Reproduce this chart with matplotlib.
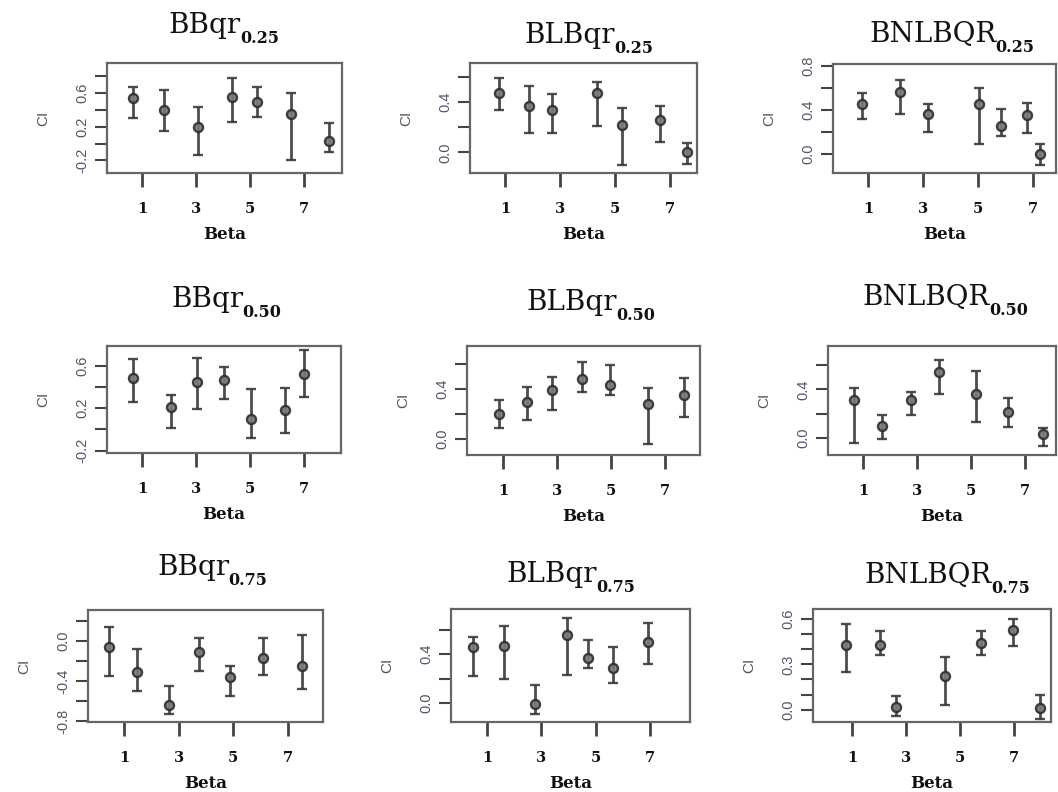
import matplotlib.pyplot as plt
from matplotlib.transforms import offset_copy

methods = ['BBqr', 'BLBqr', 'BNLBQR']
quantiles = ['0.25', '0.50', '0.75']
beta_ticks = [1, 3, 5, 7]

# BBqr, tau = 0.25
bbqr25_pos = [0.67, 1.81, 3.07, 4.33, 5.26, 6.52, 7.93]
bbqr25_est = [0.54, 0.40, 0.20, 0.56, 0.50, 0.35, 0.03]
bbqr25_lo = [0.30, 0.15, -0.13, 0.26, 0.32, -0.20, -0.10]
bbqr25_hi = [0.68, 0.64, 0.44, 0.78, 0.67, 0.60, 0.24]
# BLBqr, tau = 0.25
blbqr25_pos = [0.78, 1.87, 2.71, 4.35, 5.25, 6.64, 7.62]
blbqr25_est = [0.47, 0.37, 0.34, 0.47, 0.22, 0.26, 0.00]
blbqr25_lo = [0.34, 0.15, 0.15, 0.21, -0.10, 0.08, -0.09]
blbqr25_hi = [0.59, 0.53, 0.46, 0.56, 0.35, 0.37, 0.07]
# BNLBQR, tau = 0.25
bnlbqr25_pos = [0.78, 2.16, 3.18, 5.04, 5.84, 6.78, 7.25]
bnlbqr25_est = [0.45, 0.56, 0.36, 0.45, 0.25, 0.35, 0.00]
bnlbqr25_lo = [0.32, 0.36, 0.20, 0.09, 0.16, 0.19, -0.10]
bnlbqr25_hi = [0.55, 0.67, 0.45, 0.60, 0.41, 0.46, 0.09]

# BBqr, tau = 0.50
bbqr50_pos = [0.67, 2.07, 3.04, 4.04, 5.04, 6.30, 7.00]
bbqr50_est = [0.48, 0.21, 0.45, 0.46, 0.10, 0.18, 0.52]
bbqr50_lo = [0.26, 0.01, 0.19, 0.29, -0.08, -0.03, 0.30]
bbqr50_hi = [0.66, 0.32, 0.67, 0.59, 0.38, 0.39, 0.75]
# BLBqr, tau = 0.50
blbqr50_pos = [0.85, 1.89, 2.81, 3.93, 4.96, 6.37, 7.70]
blbqr50_est = [0.20, 0.30, 0.39, 0.48, 0.43, 0.28, 0.35]
blbqr50_lo = [0.09, 0.15, 0.23, 0.38, 0.35, -0.04, 0.18]
blbqr50_hi = [0.31, 0.42, 0.50, 0.62, 0.59, 0.41, 0.49]
# BNLBQR, tau = 0.50
bnlbqr50_pos = [0.67, 1.70, 2.78, 3.81, 5.19, 6.37, 7.67]
bnlbqr50_est = [0.31, 0.10, 0.31, 0.54, 0.36, 0.21, 0.03]
bnlbqr50_lo = [-0.04, -0.01, 0.19, 0.36, 0.13, 0.09, -0.07]
bnlbqr50_hi = [0.41, 0.19, 0.38, 0.64, 0.55, 0.33, 0.08]

# BBqr, tau = 0.75
bbqr75_pos = [0.45, 1.48, 2.65, 3.75, 4.88, 6.09, 7.52]
bbqr75_est = [-0.06, -0.31, -0.64, -0.11, -0.36, -0.17, -0.25]
bbqr75_lo = [-0.35, -0.50, -0.73, -0.30, -0.55, -0.34, -0.48]
bbqr75_hi = [0.14, -0.08, -0.45, 0.03, -0.25, 0.03, 0.06]
# BLBqr, tau = 0.75
blbqr75_pos = [0.49, 1.63, 2.76, 3.94, 4.71, 5.63, 6.92]
blbqr75_est = [0.46, 0.47, -0.01, 0.56, 0.37, 0.29, 0.50]
blbqr75_lo = [0.22, 0.20, -0.09, 0.23, 0.29, 0.16, 0.32]
blbqr75_hi = [0.54, 0.63, 0.15, 0.70, 0.52, 0.46, 0.66]
# BNLBQR, tau = 0.75
bnlbqr75_pos = [0.78, 2.04, 2.63, 4.44, 5.78, 6.96, 7.96]
bnlbqr75_est = [0.43, 0.43, 0.02, 0.22, 0.44, 0.53, 0.01]
bnlbqr75_lo = [0.25, 0.36, -0.04, 0.03, 0.36, 0.42, -0.06]
bnlbqr75_hi = [0.57, 0.52, 0.09, 0.35, 0.52, 0.60, 0.10]

panels = [
    (bbqr25_pos, bbqr25_est, bbqr25_lo, bbqr25_hi),
    (blbqr25_pos, blbqr25_est, blbqr25_lo, blbqr25_hi),
    (bnlbqr25_pos, bnlbqr25_est, bnlbqr25_lo, bnlbqr25_hi),
    (bbqr50_pos, bbqr50_est, bbqr50_lo, bbqr50_hi),
    (blbqr50_pos, blbqr50_est, blbqr50_lo, blbqr50_hi),
    (bnlbqr50_pos, bnlbqr50_est, bnlbqr50_lo, bnlbqr50_hi),
    (bbqr75_pos, bbqr75_est, bbqr75_lo, bbqr75_hi),
    (blbqr75_pos, blbqr75_est, blbqr75_lo, blbqr75_hi),
    (bnlbqr75_pos, bnlbqr75_est, bnlbqr75_lo, bnlbqr75_hi),
]

# y ticks and which ones get a label (R drops the overlapping ones)
yticks = [
    [-0.2, 0.0, 0.2, 0.4, 0.6, 0.8],
    [0.0, 0.2, 0.4, 0.6],
    [0.0, 0.2, 0.4, 0.6, 0.8],
    [-0.2, 0.0, 0.2, 0.4, 0.6],
    [0.0, 0.2, 0.4, 0.6],
    [0.0, 0.2, 0.4, 0.6],
    [-0.8, -0.6, -0.4, -0.2, 0.0, 0.2],
    [0.0, 0.2, 0.4, 0.6],
    [0.0, 0.1, 0.2, 0.3, 0.4, 0.5, 0.6],
]
ytick_labels = [
    ['-0.2', '', '0.2', '', '0.6', ''],
    ['0.0', '', '0.4', ''],
    ['0.0', '', '0.4', '', '0.8'],
    ['-0.2', '', '0.2', '', '0.6'],
    ['0.0', '', '0.4', ''],
    ['0.0', '', '0.4', ''],
    ['-0.8', '', '-0.4', '', '0.0', ''],
    ['0.0', '', '0.4', ''],
    ['0.0', '', '', '0.3', '', '', '0.6'],
]

# layout: axes boxes in pixels (left, top, right, bottom), limits, title baseline gap
W, H = 1058, 792
boxes = [
    (107, 63, 342, 173), (470, 63, 697, 173), (833, 64, 1056, 173),
    (107, 346, 341, 453), (467, 346, 700, 455), (828, 346, 1056, 455),
    (88, 610, 323, 722), (451, 609, 690, 722), (813, 609, 1051, 722),
]
xlims = [(-0.30, 8.41), (-0.27, 7.98), (-0.27, 7.84),
         (-0.30, 8.37), (-0.33, 8.30), (-0.30, 8.15),
         (-0.32, 8.29), (-0.32, 8.46), (-0.44, 8.37)]
ylims = [(-0.35, 0.96), (-0.165, 0.71), (-0.176, 0.818),
         (-0.222, 0.784), (-0.128, 0.744), (-0.143, 0.759),
         (-0.807, 0.31), (-0.157, 0.772), (-0.082, 0.667)]
title_base = [30, 20, 22, 39, 36, 41, 35, 27, 26]
title_shift = [0, 6, 8, 3, 8, 4, 7, 1, 16]

fig = plt.figure(figsize=(W / 100, H / 100), dpi=100)
renderer = fig.canvas.get_renderer()

for i, (pos, est, lo, hi) in enumerate(panels):
    l, t, r, b = boxes[i]
    ax = fig.add_axes([l / W, 1 - b / H, (r - l) / W, (b - t) / H])
    err = [[e - a for e, a in zip(est, lo)], [c - e for e, c in zip(est, hi)]]
    ax.errorbar(pos, est, yerr=err, fmt='o', color='#3a3a3a', ecolor='#3a3a3a',
                elinewidth=2, capsize=3.5, capthick=1.7, ms=6.5,
                mfc='#7a7a7a', mec='#2e2e2e', mew=1.7, alpha=0.9)
    ax.set_xlim(*xlims[i])
    ax.set_ylim(*ylims[i])
    ax.set_xticks(beta_ticks)
    ax.set_xticklabels([str(v) for v in beta_ticks], fontfamily='DejaVu Serif',
                       fontweight='bold', fontsize=10.5, color='#111111')
    ax.set_yticks(yticks[i])
    ax.set_yticklabels(ytick_labels[i], rotation=90, va='center',
                       fontfamily='Liberation Sans', fontsize=10.5, color='#55556a')
    ax.tick_params(axis='x', direction='out', length=10, width=2, color='#444444', pad=11)
    ax.tick_params(axis='y', direction='out', length=9, width=1.5, color='#444444', pad=4)
    for sp in ax.spines.values():
        sp.set_color('#666666')
        sp.set_linewidth(1.6)
    ax.set_xlabel('Beta', fontfamily='DejaVu Serif', fontweight='bold',
                  fontsize=12, color='#111111', labelpad=7)
    ax.set_ylabel('CI', fontfamily='Liberation Sans', fontsize=11,
                  color='#5a5060', labelpad=18)

    # title: name with a small bold subscript set well below the baseline
    main = ax.text(0.5, 1, methods[i % 3], transform=ax.transAxes, ha='left',
                   va='baseline', fontfamily='DejaVu Serif', fontsize=20, color='#111111')
    sub = ax.text(0.5, 1, quantiles[i // 3], transform=ax.transAxes, ha='left',
                  va='baseline', fontfamily='DejaVu Serif', fontweight='bold',
                  fontsize=11.5, color='#111111')
    wm = main.get_window_extent(renderer).width
    ws = sub.get_window_extent(renderer).width
    x0 = -(wm + ws) / 2 + title_shift[i]
    main.set_transform(offset_copy(ax.transAxes, fig, x=x0, y=title_base[i], units='dots'))
    sub.set_transform(offset_copy(ax.transAxes, fig, x=x0 + wm - 1,
                                  y=title_base[i] - 10, units='dots'))

fig.savefig('out.png', dpi=100)
